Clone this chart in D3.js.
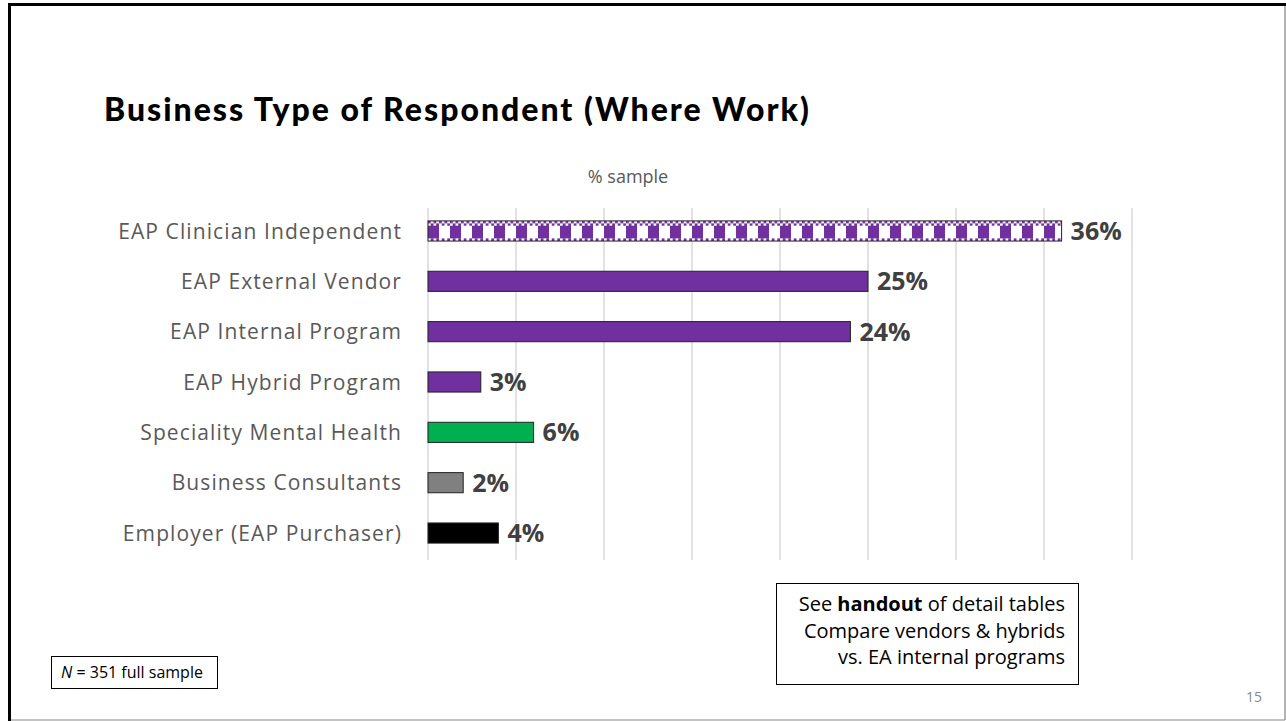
<!DOCTYPE html>
<html>
<head>
<meta charset="utf-8">
<script src="https://cdn.jsdelivr.net/npm/d3@7/dist/d3.min.js"></script>
<style>
  html, body { margin: 0; padding: 0; background: #fff; }
  svg { display: block; }
</style>
</head>
<body>
<svg id="chart" width="1286" height="721"></svg>
<script>
// Share of respondents by business type (% of full sample)
const categories = [
  "EAP Clinician Independent",
  "EAP External Vendor",
  "EAP Internal Program",
  "EAP Hybrid Program",
  "Speciality Mental Health",
  "Business Consultants",
  "Employer (EAP Purchaser)"
];
const values = [36, 25, 24, 3, 6, 2, 4];
const fills = ["pattern", "#7030A0", "#7030A0", "#7030A0", "#00B050", "#808080", "#000000"];
const gridTicks = [0, 5, 10, 15, 20, 25, 30, 35, 40];
const titleText = "Business Type of Respondent (Where Work)";
const axisTitle = "% sample";
const noteLines = [["See ", "handout", " of detail tables"], ["Compare vendors & hybrids"], ["vs. EA internal programs"]];
const sampleNote = "= 351 full sample";
const pageNumber = "15";

const svg = d3.select("#chart");
const W = 1286, H = 721;
const bodyFont = "'Open Sans', 'Liberation Sans', sans-serif";

// Slide frame
svg.append("rect").attr("x", 0).attr("y", 0).attr("width", W).attr("height", H).attr("fill", "#fff");
svg.append("line").attr("x1", 1285).attr("x2", 1285).attr("y1", 4).attr("y2", 720).attr("stroke", "#666").attr("stroke-width", 1);
svg.append("line").attr("x1", 8).attr("x2", 1285).attr("y1", 720).attr("y2", 720).attr("stroke", "#888").attr("stroke-width", 1);
svg.append("line").attr("x1", 8).attr("x2", 1286).attr("y1", 4.5).attr("y2", 4.5).attr("stroke", "#000").attr("stroke-width", 3);
svg.append("line").attr("x1", 9.5).attr("x2", 9.5).attr("y1", 3).attr("y2", 721).attr("stroke", "#000").attr("stroke-width", 3);

// Scales
const x = d3.scaleLinear().domain([0, 40]).range([428, 1132]);
const y = d3.scaleBand().domain(categories).range([205.8, 558.2]).paddingInner(0.6).paddingOuter(0.3);
const bh = y.bandwidth();

// Checker pattern for the top bar
const defs = svg.append("defs");
const pat = defs.append("pattern")
  .attr("id", "checker")
  .attr("patternUnits", "userSpaceOnUse")
  .attr("x", x(0)).attr("y", y(categories[0]))
  .attr("width", 22).attr("height", bh);
pat.append("rect").attr("width", 22).attr("height", bh).attr("fill", "#fff");
const cell = 2.75;
for (let r = 0; r < 2; r++) {
  for (let c = 0; c < 8; c++) {
    if ((r + c) % 2 === 0) {
      pat.append("rect").attr("x", c * cell).attr("y", r * 2.4).attr("width", cell).attr("height", 2.4).attr("fill", "#7030A0");
    }
  }
}
for (let c = 0; c < 8; c++) {
  if (c % 2 === 1) {
    pat.append("rect").attr("x", c * cell).attr("y", bh - 2.6).attr("width", cell).attr("height", 2.6).attr("fill", "#7030A0");
  }
}
pat.append("rect").attr("x", 0).attr("y", 4.8).attr("width", 11).attr("height", bh - 7.4).attr("fill", "#7030A0");

// Title
svg.append("text")
  .attr("x", 104).attr("y", 121)
  .attr("font-family", "Lato, 'DejaVu Sans', sans-serif")
  .attr("font-weight", 900)
  .attr("font-size", 32)
  .attr("letter-spacing", 2)
  .attr("fill", "#000")
  .text(titleText);

// Axis title
svg.append("text")
  .attr("x", 628).attr("y", 183)
  .attr("text-anchor", "middle")
  .attr("font-family", bodyFont)
  .attr("font-size", 18)
  .attr("fill", "#595959")
  .text(axisTitle);

// Vertical gridlines
svg.append("g").selectAll("line").data(gridTicks).join("line")
  .attr("x1", d => x(d)).attr("x2", d => x(d))
  .attr("y1", 208).attr("y2", 560)
  .attr("stroke", "#d9d9d9").attr("stroke-width", 1.5);

// Bars
svg.append("g").selectAll("rect").data(categories).join("rect")
  .attr("x", x(0))
  .attr("y", d => y(d))
  .attr("width", (d, i) => x(values[i]) - x(0))
  .attr("height", bh)
  .attr("fill", (d, i) => fills[i] === "pattern" ? "url(#checker)" : fills[i])
  .attr("stroke", "#222")
  .attr("stroke-width", 1);

// Category labels
svg.append("g").selectAll("text").data(categories).join("text")
  .attr("x", 402)
  .attr("y", d => y(d) + bh / 2)
  .attr("dy", "0.36em")
  .attr("text-anchor", "end")
  .attr("font-family", bodyFont)
  .attr("font-size", 21)
  .attr("letter-spacing", 1.1)
  .attr("fill", "#595959")
  .text(d => d);

// Value labels
svg.append("g").selectAll("text").data(categories).join("text")
  .attr("x", (d, i) => x(values[i]) + 9)
  .attr("y", d => y(d) + bh / 2)
  .attr("dy", "0.36em")
  .attr("font-family", bodyFont)
  .attr("font-weight", 700)
  .attr("font-size", 25)
  .attr("fill", "#404040")
  .text((d, i) => values[i] + "%");

// Note box
svg.append("rect").attr("x", 776.5).attr("y", 583.5).attr("width", 302).attr("height", 101)
  .attr("fill", "#fff").attr("stroke", "#000").attr("stroke-width", 1);
const note = svg.append("text")
  .attr("text-anchor", "end")
  .attr("font-family", bodyFont)
  .attr("font-size", 20)
  .attr("fill", "#000");
noteLines.forEach((parts, i) => {
  const line = note.append("tspan").attr("x", 1065).attr("y", 611 + i * 26.5);
  parts.forEach(p => {
    const t = line.append("tspan").text(p);
    if (p === "handout") t.attr("font-weight", 700);
  });
});

// Sample size box
svg.append("rect").attr("x", 51.5).attr("y", 656.5).attr("width", 166).attr("height", 32)
  .attr("fill", "#fff").attr("stroke", "#000").attr("stroke-width", 1);
const ns = svg.append("text")
  .attr("x", 61).attr("y", 678)
  .attr("font-family", bodyFont)
  .attr("font-size", 16)
  .attr("fill", "#000");
ns.append("tspan").attr("font-style", "italic").text("N");
ns.append("tspan").text(" " + sampleNote);

// Page number
svg.append("text")
  .attr("x", 1262).attr("y", 702)
  .attr("text-anchor", "end")
  .attr("font-family", bodyFont)
  .attr("font-size", 14)
  .attr("fill", "#888")
  .text(pageNumber);
</script>
</body>
</html>
